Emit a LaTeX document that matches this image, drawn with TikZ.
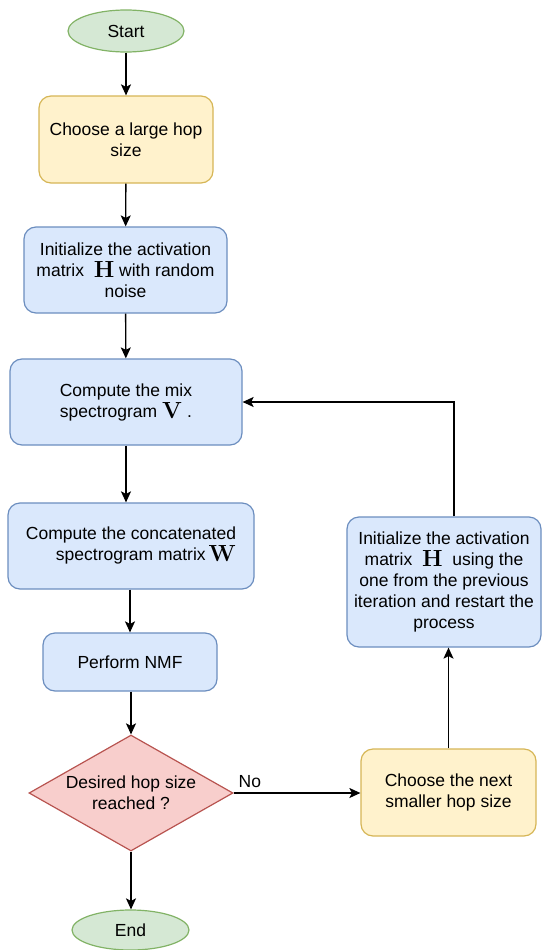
\documentclass[tikz,border=0pt]{standalone}
\usepackage[no-math]{fontspec}
\usepackage{graphicx}
\setmainfont{Liberation Sans}
\usetikzlibrary{arrows.meta,shapes.geometric,calc}

\definecolor{termfill}{HTML}{D5E8D4}
\definecolor{termline}{HTML}{82B366}
\definecolor{yelfill}{HTML}{FFF2CC}
\definecolor{yelline}{HTML}{D6B656}
\definecolor{bluefill}{HTML}{DAE8FC}
\definecolor{blueline}{HTML}{6C8EBF}
\definecolor{redfill}{HTML}{F8CECC}
\definecolor{redline}{HTML}{B85450}

% bold matrix symbol, set a little larger than the text around it
\newcommand{\bm}[1]{\raisebox{-1pt}{\scalebox{1.35}{\(\mathbf{#1}\)}}}

\tikzset{
  every node/.style={font=\fontsize{17.5}{21}\selectfont, inner sep=0pt, align=center},
  term/.style={ellipse, draw=termline, fill=termfill, line width=1.2pt},
  yelbox/.style={rectangle, rounded corners=12pt, draw=yelline, fill=yelfill, line width=1.2pt},
  bluebox/.style={rectangle, rounded corners=12pt, draw=blueline, fill=bluefill, line width=1.2pt},
  decide/.style={diamond, aspect=1.76, draw=redline, fill=redfill, line width=1.2pt},
  flow/.style={draw=black, line width=1.4pt, -{Stealth[length=11pt,width=10pt,inset=2.5pt]}},
}

\begin{document}
\begin{tikzpicture}[x=1pt,y=-1pt]
\useasboundingbox (0,0) rectangle (542,950);

% main column
\node[term, minimum width=116pt, minimum height=42pt] (start) at (126,31) {Start};
\node[yelbox, minimum width=174pt, minimum height=87pt] (large) at (126,139.5) {Choose a large hop\\size};
\node[bluebox, minimum width=203pt, minimum height=86pt] (init) at (125.5,270) {Initialize the activation\\matrix \ \bm{H} with random\\noise};
\node[bluebox, minimum width=232pt, minimum height=86pt] (mix) at (126,402) {Compute the mix\\spectrogram \bm{V} .};
\node[bluebox, minimum width=246pt, minimum height=86pt] (concat) at (131,546) {\begin{tabular}{@{}r@{}}Compute the concatenated\\spectrogram matrix\,\bm{W}\end{tabular}};
\node[bluebox, minimum width=174pt, minimum height=58pt] (nmf) at (130,662) {Perform NMF};
\node[decide, minimum width=204pt, minimum height=116pt] (hop) at (131,793) {Desired hop size\\reached ?};
\node[term, minimum width=117pt, minimum height=40pt] (end) at (130.5,930) {End};

% refinement loop
\node[yelbox, minimum width=175pt, minimum height=87pt] (next) at (448.5,792.5) {Choose the next\\smaller hop size};
\node[bluebox, minimum width=194pt, minimum height=130pt] (reinit) at (444,582) {Initialize the activation\\matrix \ \bm{H} \ using the\\one from the previous\\iteration and restart the\\process};

% connectors
\draw[flow] (start) -- (large);
\draw[flow] (large) -- (init);
\draw[flow] (init) -- (mix);
\draw[flow] (mix) -- (mix |- concat.north);
\draw[flow] (concat.south -| nmf) -- (nmf);
\draw[flow] (nmf.south -| hop) -- (hop);
\draw[flow] (hop) -- (hop |- end.north);
\draw[flow] (hop.east) -- node[pos=0.035, anchor=south west, yshift=5pt] {No} (next.west |- hop.east);
\draw[flow] (next.north) -- (next.north |- reinit.south);
\draw[flow] ([xshift=10pt]reinit.north) |- (mix.east);
\end{tikzpicture}
\end{document}
